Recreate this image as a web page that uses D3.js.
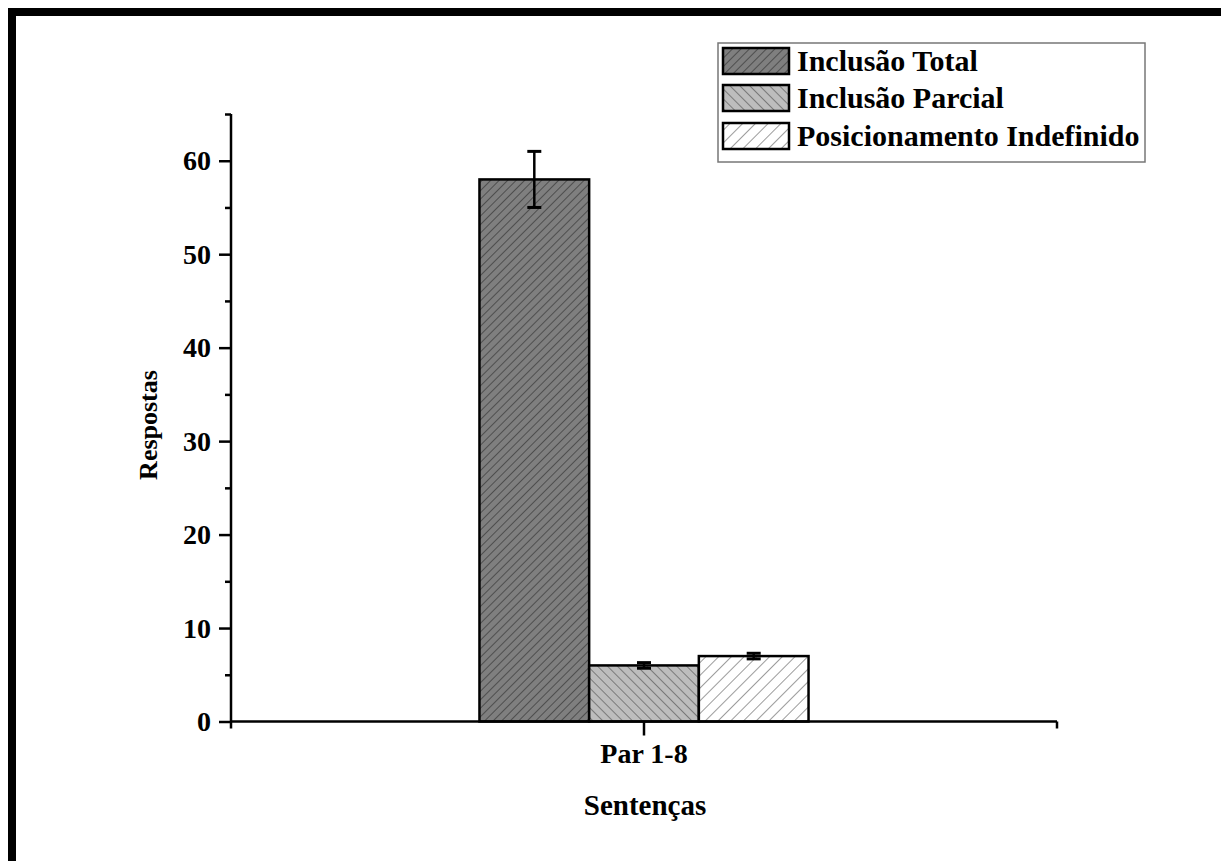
<!DOCTYPE html>
<html>
<head>
<meta charset="utf-8">
<script src="https://cdn.jsdelivr.net/npm/d3@7"></script>
<style>
html,body{margin:0;padding:0;background:#fff;}
svg{display:block;}
text{font-family:"Liberation Serif","Times New Roman",serif;font-weight:bold;fill:#000;}
</style>
</head>
<body>
<svg id="chart" width="1221" height="861"></svg>
<script>
const categories = ["Par 1-8"];
const seriesNames = ["Inclusão Total", "Inclusão Parcial", "Posicionamento Indefinido"];
const seriesValues = [58, 6, 7];
const seriesErrors = [3, 0.3, 0.3];
const yMajorTicks = [0, 10, 20, 30, 40, 50, 60];
const yMinorTicks = [5, 15, 25, 35, 45, 55, 65];
const yTitle = "Respostas";
const xTitle = "Sentenças";

const svg = d3.select("#chart");
const fills = [
  {bg: "#7f7f7f", line: "#333", angle: 45, gap: 6},
  {bg: "#bdbdbd", line: "#555", angle: -45, gap: 7},
  {bg: "#ffffff", line: "#666", angle: 45, gap: 9}
];
const defs = svg.append("defs");
fills.forEach((f, i) => {
  const p = defs.append("pattern").attr("id", "hatch" + i)
    .attr("patternUnits", "userSpaceOnUse").attr("width", f.gap).attr("height", f.gap)
    .attr("patternTransform", `rotate(${f.angle})`);
  p.append("rect").attr("width", f.gap).attr("height", f.gap).attr("fill", f.bg);
  p.append("line").attr("x1", 0).attr("y1", 0).attr("x2", 0).attr("y2", f.gap)
    .attr("stroke", f.line).attr("stroke-width", 1.3);
});

// frame
svg.append("rect").attr("x", 12).attr("y", 12).attr("width", 1240).attr("height", 880)
  .attr("fill", "none").attr("stroke", "#000").attr("stroke-width", 8);

const x0 = 231, x1 = 1057;
const x = d3.scaleBand().domain(categories).range([x0, x1]).paddingOuter(0.755).paddingInner(0);
const xs = d3.scaleBand().domain(seriesNames).range([0, x.bandwidth()]);
const y = d3.scaleLinear().domain([0, 65]).range([721.5, 114]);

// bars
const g = svg.append("g");
categories.forEach(cat => {
  seriesNames.forEach((s, i) => {
    const bx = x(cat) + xs(s);
    g.append("rect").attr("x", bx).attr("y", y(seriesValues[i]))
      .attr("width", xs.bandwidth()).attr("height", y(0) - y(seriesValues[i]))
      .attr("fill", `url(#hatch${i})`).attr("stroke", "#000").attr("stroke-width", 2.5);
  });
  seriesNames.forEach((s, i) => {
    const cx = x(cat) + xs(s) + xs.bandwidth() / 2;
    const lo = y(seriesValues[i] - seriesErrors[i]), hi = y(seriesValues[i] + seriesErrors[i]);
    g.append("line").attr("x1", cx).attr("x2", cx).attr("y1", lo).attr("y2", hi)
      .attr("stroke", "#000").attr("stroke-width", 2.5);
    [lo, hi].forEach(v => g.append("line").attr("x1", cx - 7).attr("x2", cx + 7)
      .attr("y1", v).attr("y2", v).attr("stroke", "#000").attr("stroke-width", 3));
  });
});

// y axis
const yAxis = svg.append("g").attr("transform", `translate(${x0},0)`)
  .call(d3.axisLeft(y).tickValues(yMajorTicks).tickSize(12).tickPadding(8).tickFormat(d3.format("d")));
yAxis.select(".domain").remove();
yAxis.selectAll(".tick line").attr("stroke-width", 2.5);
yAxis.selectAll("text").style("font-size", "28px");
const yMinor = svg.append("g").attr("transform", `translate(${x0},0)`)
  .call(d3.axisLeft(y).tickValues(yMinorTicks).tickSize(6).tickFormat(""));
yMinor.select(".domain").remove();
yMinor.selectAll(".tick line").attr("stroke-width", 2.5);
svg.append("line").attr("x1", x0).attr("x2", x0).attr("y1", y(65)).attr("y2", y(0) + 7)
  .attr("stroke", "#000").attr("stroke-width", 2.5);

// x axis
const xAxis = svg.append("g").attr("transform", `translate(0,${y(0)})`)
  .call(d3.axisBottom(x).tickSize(14).tickPadding(8));
xAxis.select(".domain").remove();
xAxis.selectAll(".tick line").attr("stroke-width", 2.5);
xAxis.selectAll("text").style("font-size", "28px");
svg.append("line").attr("x1", x0).attr("x2", x1).attr("y1", y(0)).attr("y2", y(0))
  .attr("stroke", "#000").attr("stroke-width", 2.5);
svg.append("line").attr("x1", x1).attr("x2", x1).attr("y1", y(0)).attr("y2", y(0) + 7)
  .attr("stroke", "#000").attr("stroke-width", 2.5);

// titles
svg.append("text").attr("x", 645).attr("y", 815).attr("text-anchor", "middle")
  .style("font-size", "29px").text(xTitle);
svg.append("text").attr("transform", "translate(157,425) rotate(-90)").attr("text-anchor", "middle")
  .style("font-size", "26px").text(yTitle);

// legend
const lg = svg.append("g");
lg.append("rect").attr("x", 718).attr("y", 43).attr("width", 427).attr("height", 119)
  .attr("fill", "#fff").attr("stroke", "#777").attr("stroke-width", 1.5);
const rowY = [48, 85, 123];
seriesNames.forEach((s, i) => {
  lg.append("rect").attr("x", 723).attr("y", rowY[i]).attr("width", 66).attr("height", 26)
    .attr("fill", `url(#hatch${i})`).attr("stroke", "#000").attr("stroke-width", 2.5);
  lg.append("text").attr("x", 797).attr("y", rowY[i] + 23).style("font-size", "30px").text(s);
});
</script>
</body>
</html>
